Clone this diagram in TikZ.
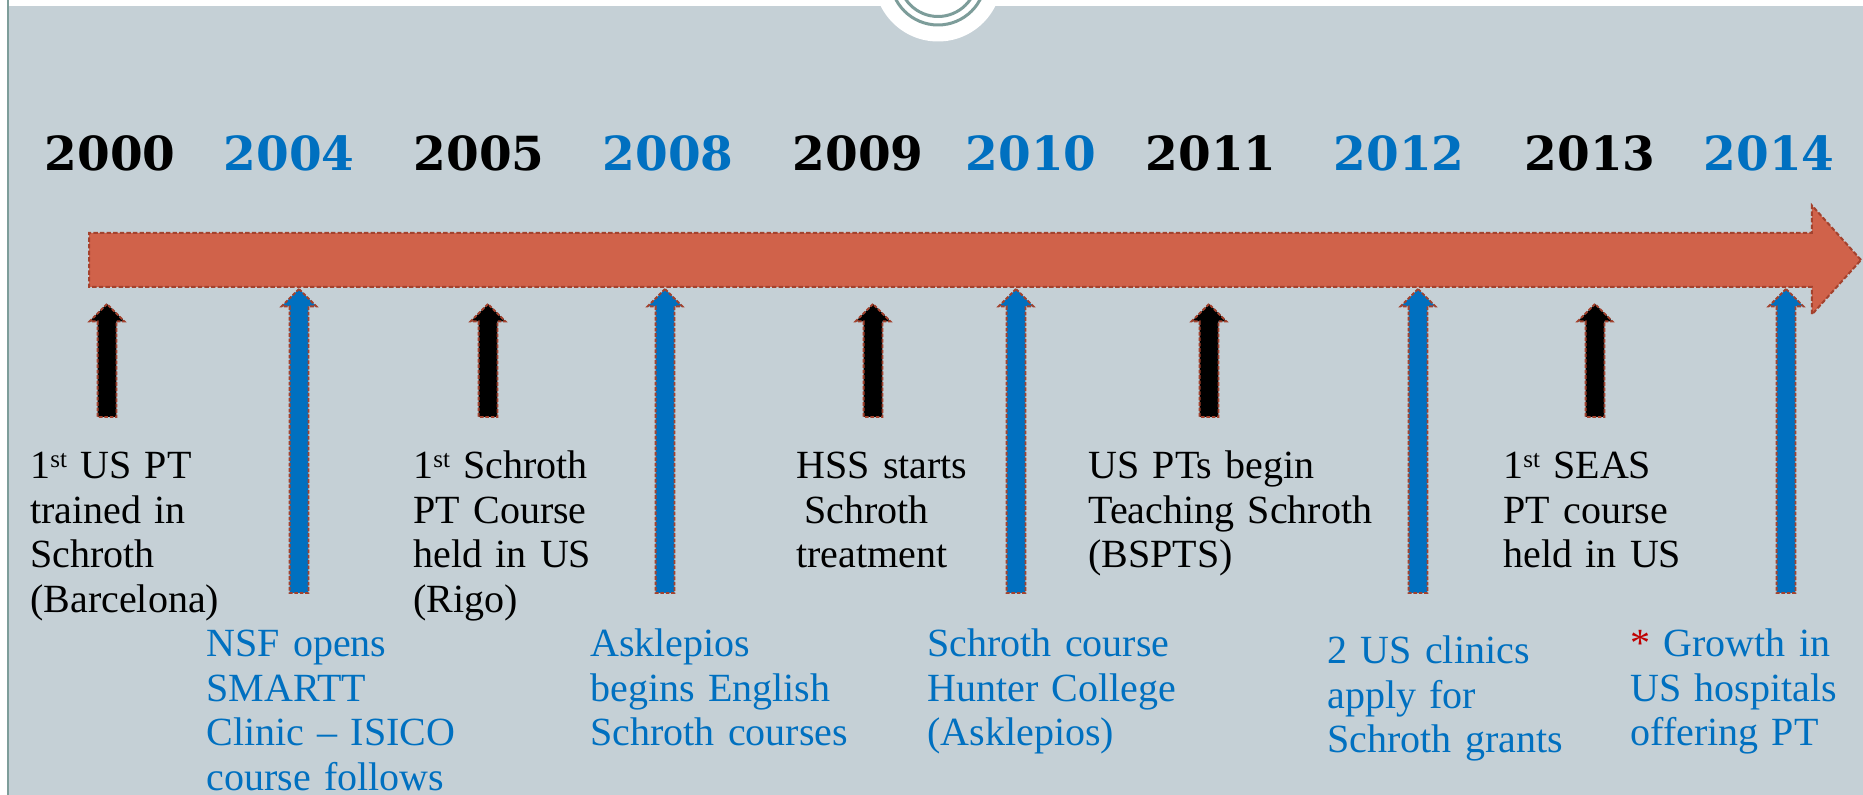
\documentclass[tikz,border=0pt]{standalone}
\usepackage{fontspec}
\setmainfont{Liberation Serif}
\newfontfamily\yearfont{DejaVu Serif}
\usetikzlibrary{shapes.arrows}

\definecolor{slidebg}{RGB}{197,208,214}
\definecolor{framecol}{RGB}{125,157,154}
\definecolor{linefill}{RGB}{208,98,74}
\definecolor{lineedge}{RGB}{163,66,46}
\definecolor{eventblue}{RGB}{0,112,192}
\definecolor{starred}{RGB}{192,0,0}
\newcommand\ordst{\raisebox{5.5pt}{\fontsize{12.5pt}{12.5pt}\selectfont st}}

\begin{document}
\begin{tikzpicture}[x=0.5pt, y=-0.5pt,
		year/.style={font=\yearfont\bfseries\fontsize{23.5pt}{26pt}\selectfont, anchor=base, inner sep=0pt},
		event/.style={font=\fontsize{20pt}{22.25pt}\selectfont, text width=200pt, align=left, anchor=base west, inner sep=0pt},
		newevent/.style={event, text=eventblue},
		tick/.style={single arrow, rotate=90, anchor=tip, draw=lineedge, line width=0.9pt, dash pattern=on 1.8pt off 0.9pt, inner xsep=0pt, inner ysep=4.25pt, outer sep=0pt, single arrow head extend=4pt, minimum width=0pt},
		oldtick/.style={tick, fill=black, minimum height=56.5pt},
		newtick/.style={tick, fill=eventblue, minimum height=152pt}]
				% Slide background:
				\useasboundingbox (0,0) rectangle (1863,795);
				\fill[white] (0,0) rectangle (1863,795);
				\fill[slidebg] (9,6) rectangle (1863,795);
				\draw[framecol, line width=1pt] (8,0) -- (8,795);
				\fill[white] (938,-22.5) circle[radius=32pt];
				\draw[framecol, line width=1.5pt] (938,-22.5) circle[radius=23.75pt];
				\draw[framecol, line width=1.5pt] (938,-22.5) circle[radius=19.5pt];
				% Years:
				\node[year] (y2000) at (110,171){2000};
				\node[year, text=eventblue] (y2004) at (289,171){2004};
				\node[year] (y2005) at (479,171){2005};
				\node[year, text=eventblue] (y2008) at (668,171){2008};
				\node[year] (y2009) at (858,171){2009};
				\node[year, text=eventblue] (y2010) at (1031,171){2010};
				\node[year] (y2011) at (1211,171){2011};
				\node[year, text=eventblue] (y2012) at (1399,171){2012};
				\node[year] (y2013) at (1590,171){2013};
				\node[year, text=eventblue] (y2014) at (1769,171){2014};
				% Time line:
				\node[single arrow, draw=lineedge, fill=linefill, line width=1pt, dash pattern=on 2.2pt off 1.1pt, inner xsep=0pt, inner ysep=13pt, outer sep=0pt, single arrow head extend=13.75pt, single arrow tip angle=96, minimum height=886pt, anchor=tip] (timeline) at (1861,260){};
				% Up arrows:
				\node[oldtick] (t2000) at (107,304){};
				\node[newtick] (t2004) at (299,289){};
				\node[oldtick] (t2005) at (488,304){};
				\node[newtick] (t2008) at (665,289){};
				\node[oldtick] (t2009) at (873,304){};
				\node[newtick] (t2010) at (1016,289){};
				\node[oldtick] (t2011) at (1209,304){};
				\node[newtick] (t2012) at (1418,289){};
				\node[oldtick] (t2013) at (1595,304){};
				\node[newtick] (t2014) at (1786,289){};
				% Events:
				\node[event] (e2000) at (30,479){1\ordst{} US PT\\trained in\\Schroth\\(Barcelona)};
				\node[event] (e2005) at (413,479){1\ordst{} Schroth\\PT Course\\held in US\\(Rigo)};
				\node[event] (e2009) at (796,479){HSS starts\\\hspace*{4pt}Schroth\\treatment};
				\node[event] (e2011) at (1088,479){US PTs begin\\Teaching Schroth\\(BSPTS)};
				\node[event] (e2013) at (1503,479){1\ordst{} SEAS\\PT course\\held in US};
				\node[newevent] (e2004) at (206,657){NSF opens\\SMARTT\\Clinic -- ISICO\\course follows};
				\node[newevent] (e2008) at (590,657){Asklepios\\begins English\\Schroth courses};
				\node[newevent] (e2010) at (927,657){Schroth course\\Hunter College\\(Asklepios)};
				\node[newevent] (e2012) at (1327,664){2 US clinics\\apply for\\Schroth grants};
				\node[newevent] (e2014) at (1630,657){{\color{starred}*} Growth in\\US hospitals\\offering PT};
			\end{tikzpicture}
\end{document}
